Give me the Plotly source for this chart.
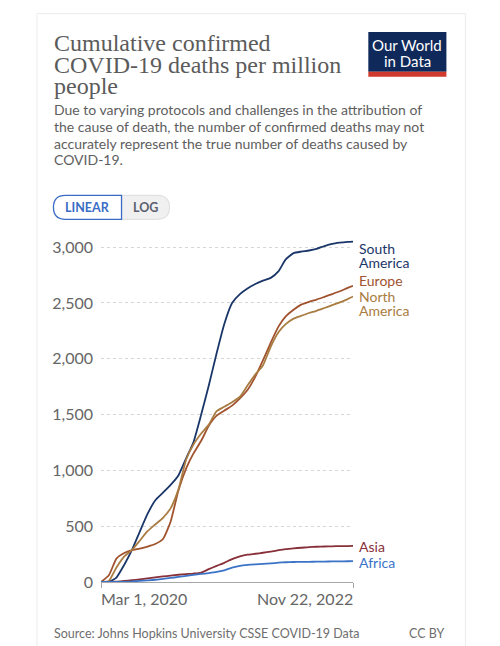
import plotly.graph_objects as go

dates = ["2020-03-01", "2020-04-01", "2020-05-01", "2020-06-01", "2020-07-01", "2020-08-01",
         "2020-09-01", "2020-10-01", "2020-11-01", "2020-12-01",
         "2021-01-01", "2021-02-01", "2021-03-01", "2021-04-01", "2021-05-01", "2021-06-01",
         "2021-07-01", "2021-08-01", "2021-09-01", "2021-10-01", "2021-11-01", "2021-12-01",
         "2022-01-01", "2022-02-01", "2022-03-01", "2022-04-01", "2022-05-01", "2022-06-01",
         "2022-07-01", "2022-08-01", "2022-09-01", "2022-10-01", "2022-11-01", "2022-11-22"]

south_america = [0, 0, 40, 155, 285, 450, 610, 730, 800, 870,
                 955, 1110, 1250, 1500, 1760, 2050, 2310, 2500, 2580, 2630, 2670, 2700,
                 2725, 2785, 2890, 2946, 2960, 2970, 2985, 3010, 3030, 3040, 3047, 3050]
europe = [0, 60, 210, 260, 285, 300, 318, 340, 385, 540,
          820, 1020, 1150, 1265, 1400, 1490, 1535, 1580, 1645, 1720, 1840, 1985,
          2145, 2290, 2380, 2440, 2485, 2510, 2530, 2555, 2580, 2605, 2635, 2653]
north_america = [0, 10, 130, 230, 285, 370, 455, 515, 575, 660,
                 830, 1100, 1230, 1330, 1410, 1530, 1570, 1610, 1660, 1760, 1860, 1940,
                 2110, 2240, 2310, 2360, 2385, 2410, 2430, 2455, 2480, 2505, 2535, 2557]
asia = [0, 1, 4, 10, 16, 24, 33, 42, 50, 57,
        65, 71, 76, 85, 115, 145, 172, 205, 230, 245, 253, 262,
        272, 285, 295, 302, 307, 313, 316, 318, 320, 321, 322, 323]
africa = [0, 0, 1, 2, 5, 10, 15, 20, 28, 36,
          45, 55, 64, 72, 80, 90, 105, 128, 145, 153, 158, 162,
          167, 173, 177, 179, 180, 181, 182, 183, 184, 185, 186, 187]

series = [
    ("South America", south_america, "#1A3668"),
    ("Europe", europe, "#A0532E"),
    ("North America", north_america, "#A97C42"),
    ("Asia", asia, "#883039"),
    ("Africa", africa, "#3B73C6"),
]

y_ticks = [0, 500, 1000, 1500, 2000, 2500, 3000]
y_tick_text = ["0", "500", "1,000", "1,500", "2,000", "2,500", "3,000"]
x_range = ["2020-03-01", "2022-11-22"]
x_tick_text = ["Mar 1, 2020", "Nov 22, 2022"]

W, H = 500, 646
PL, PR = 101.0, 352.7
PB = 581.7
YMAX = 3100
PT = PB - YMAX * (334.4 / 3000)


def px(x):
    return (x - PL) / (PR - PL)


def py(y):
    return (PB - y) / (PB - PT)


fig = go.Figure()
for name, vals, col in series:
    fig.add_trace(go.Scatter(x=dates, y=vals, mode="lines", name=name,
                             line=dict(color=col, width=1.8, shape="spline", smoothing=0.5),
                             hoverinfo="skip", showlegend=False))

ann = []
txt_font = "Lato, 'Noto Sans', sans-serif"
title_font = "'Liberation Serif', serif"

# title lines
for i, t in enumerate(["Cumulative confirmed", "COVID-19 deaths per million", "people"]):
    ann.append(dict(x=px(52), y=py(43.5 + i * 21.5), xref="paper", yref="paper", text=t,
                    showarrow=False, xanchor="left", yanchor="middle",
                    font=dict(family=title_font, size=24, color="#5b5b5b")))
sub = ["Due to varying protocols and challenges in the attribution of",
       "the cause of death, the number of confirmed deaths may not",
       "accurately represent the true number of deaths caused by",
       "COVID-19."]
for i, t in enumerate(sub):
    ann.append(dict(x=px(52), y=py(110 + i * 16.7), xref="paper", yref="paper", text=t,
                    showarrow=False, xanchor="left", yanchor="middle",
                    font=dict(family=txt_font, size=14, color="#5e5e5e")))

# logo text
ann.append(dict(x=px(407), y=py(45), xref="paper", yref="paper", text="Our World",
                showarrow=False, xanchor="center", yanchor="middle",
                font=dict(family=txt_font, size=15, color="white")))
ann.append(dict(x=px(407), y=py(61), xref="paper", yref="paper", text="in Data",
                showarrow=False, xanchor="center", yanchor="middle",
                font=dict(family=txt_font, size=15, color="white")))

# buttons text
ann.append(dict(x=px(87.5), y=py(207.5), xref="paper", yref="paper", text="<b>LINEAR</b>",
                showarrow=False, xanchor="center", yanchor="middle",
                font=dict(family=txt_font, size=12.5, color="#3a6cc6")))
ann.append(dict(x=px(145.5), y=py(207.5), xref="paper", yref="paper", text="<b>LOG</b>",
                showarrow=False, xanchor="center", yanchor="middle",
                font=dict(family=txt_font, size=12.5, color="#5b5f6e")))

# x tick labels
ann.append(dict(x=x_range[0], y=py(598), xref="x", yref="paper", text=x_tick_text[0],
                showarrow=False, xanchor="left", yanchor="middle", xshift=-2,
                font=dict(family=txt_font, size=16, color="#666666")))
ann.append(dict(x=x_range[1], y=py(598), xref="x", yref="paper", text=x_tick_text[1],
                showarrow=False, xanchor="right", yanchor="middle", xshift=2,
                font=dict(family=txt_font, size=16, color="#666666")))

# line labels
labels = [("South", 248.7, "#1A3668"), ("America", 262.3, "#1A3668"),
          ("Europe", 281, "#A0532E"), ("North", 296.7, "#A97C42"),
          ("America", 310.3, "#A97C42"), ("Asia", 546.7, "#883039"),
          ("Africa", 562, "#3B73C6")]
for t, yy, c in labels:
    ann.append(dict(x=px(357), y=py(yy), xref="paper", yref="paper", text=t,
                    showarrow=False, xanchor="left", yanchor="middle",
                    font=dict(family=txt_font, size=14, color=c)))

# footer
ann.append(dict(x=px(52), y=py(633), xref="paper", yref="paper",
                text="Source: Johns Hopkins University CSSE COVID-19 Data",
                showarrow=False, xanchor="left", yanchor="middle",
                font=dict(family=txt_font, size=12.5, color="#6e6e6e")))
ann.append(dict(x=px(447), y=py(633), xref="paper", yref="paper", text="CC BY",
                showarrow=False, xanchor="right", yanchor="middle",
                font=dict(family=txt_font, size=12.5, color="#6e6e6e")))


def rpath(x0, y0, x1, y1, rl, rr):
    # rounded rect path in paper coords, rl = left radius, rr = right radius (pixels)
    pts = []
    pts.append(f"M {px(x0 + rl)} {py(y0)}")
    pts.append(f"L {px(x1 - rr)} {py(y0)}")
    pts.append(f"Q {px(x1)} {py(y0)} {px(x1)} {py(y0 + rr)}")
    pts.append(f"L {px(x1)} {py(y1 - rr)}")
    pts.append(f"Q {px(x1)} {py(y1)} {px(x1 - rr)} {py(y1)}")
    pts.append(f"L {px(x0 + rl)} {py(y1)}")
    pts.append(f"Q {px(x0)} {py(y1)} {px(x0)} {py(y1 - rl)}")
    pts.append(f"L {px(x0)} {py(y0 + rl)}")
    pts.append(f"Q {px(x0)} {py(y0)} {px(x0 + rl)} {py(y0)}")
    pts.append("Z")
    return " ".join(pts)


shapes = [
    # card border
    dict(type="rect", xref="paper", yref="paper", x0=px(37), x1=px(465), y0=py(14), y1=py(660),
         line=dict(color="#ececec", width=1), fillcolor="rgba(0,0,0,0)", layer="below"),
    # logo
    dict(type="rect", xref="paper", yref="paper", x0=px(368), x1=px(446), y0=py(32.5), y1=py(72),
         line=dict(width=0), fillcolor="#0f2a5a"),
    dict(type="rect", xref="paper", yref="paper", x0=px(368), x1=px(446), y0=py(72), y1=py(77),
         line=dict(width=0), fillcolor="#cf3a2d"),
    # LOG button
    dict(type="path", xref="paper", yref="paper", path=rpath(110, 195.5, 169.5, 219.5, 0, 12),
         line=dict(color="#dcdcdc", width=1), fillcolor="#f0f0f1"),
    # LINEAR button
    dict(type="path", xref="paper", yref="paper", path=rpath(53.5, 195.5, 121.5, 219.5, 12, 0),
         line=dict(color="#3a6cc6", width=1.3), fillcolor="white"),
]

fig.update_layout(
    width=W, height=H, autosize=False,
    margin=dict(l=PL, r=W - PR, t=PT, b=H - PB, pad=0),
    paper_bgcolor="white", plot_bgcolor="white",
    annotations=ann, shapes=shapes,
    xaxis=dict(range=x_range, type="date", showgrid=False, zeroline=False,
               showline=True, linecolor="#a8a8a8", linewidth=1,
               ticks="outside", tickvals=x_range, ticklen=5, tickcolor="#a8a8a8",
               showticklabels=False, fixedrange=True),
    yaxis=dict(range=[0, YMAX], tickvals=y_ticks, ticktext=y_tick_text,
               showgrid=True, gridcolor="#d6d6d6", griddash="dot", gridwidth=1,
               zeroline=False, showline=False, ticks="", ticklabelstandoff=7,
               tickfont=dict(family=txt_font, size=16, color="#666666"), fixedrange=True),
    hovermode=False,
)

fig.write_html("out.html", config={"displayModeBar": False},
               post_script="document.body.style.margin='0px';document.body.style.overflow='hidden';")
